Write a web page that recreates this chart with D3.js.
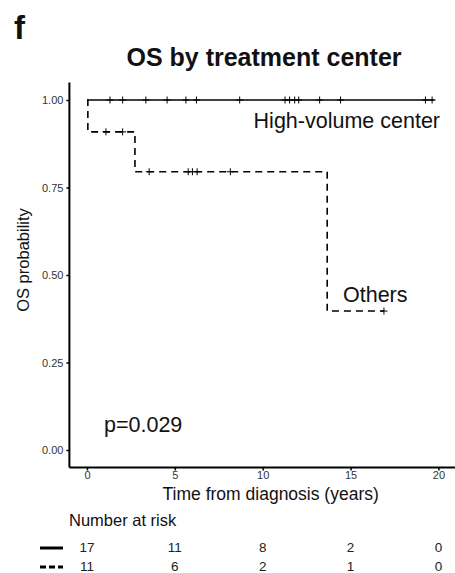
<!DOCTYPE html>
<html><head><meta charset="utf-8">
<script src="https://cdn.jsdelivr.net/npm/d3@7"></script>
<style>
html,body{margin:0;padding:0;background:#fff;}
svg{display:block;font-family:"Liberation Sans",Arial,Helvetica,sans-serif;}
</style></head>
<body>
<svg id="c" width="455" height="573"></svg>
<script>
// ---- data ----
const groups = ["High-volume center", "Others"];
// step curves: [time, survival]
const hvSteps = [[0, 1.0], [19.77, 1.0]];
const otSteps = [[0, 1.0], [0.05, 0.909], [2.73, 0.795], [13.67, 0.397], [16.9, 0.397]];
// censor marks (times)
const hvCensor = [1.31, 2.03, 3.35, 4.56, 5.63, 6.23, 8.69, 11.27, 11.53, 11.82, 12.05, 13.24, 14.43, 19.26, 19.64];
const otCensor = [1.08, 2.03, 3.54, 5.76, 6.0, 6.27, 8.16, 16.9];
const xTicks = [0, 5, 10, 15, 20];
const yTicks = [0, 0.25, 0.5, 0.75, 1.0];
const riskTimes = [0, 5, 10, 15, 20];
const riskHV = [17, 11, 8, 2, 0];
const riskOT = [11, 6, 2, 1, 0];
const pText = "p=0.029";

// ---- layout ----
const svg = d3.select("#c");
const x = d3.scaleLinear().domain([-1, 21]).range([69.4, 456]);
const y = d3.scaleLinear().domain([-0.05, 1.05]).range([467.5, 82.5]);

function survAt(steps, t){
  let s = steps[0][1];
  for (const [tt, v] of steps) { if (tt <= t) s = v; }
  return s;
}

// title & panel letter
svg.append("text").attr("x", 14).attr("y", 39).attr("font-size", 33).attr("font-weight", "bold").attr("fill", "#111").text("f");
svg.append("text").attr("x", 264).attr("y", 66).attr("text-anchor", "middle")
  .attr("font-size", 25).attr("font-weight", "bold").attr("fill", "#111").text("OS by treatment center");

// axes
const gy = svg.append("g").attr("transform", `translate(${x(-1)},0)`)
  .call(d3.axisLeft(y).tickValues(yTicks).tickFormat(d3.format(".2f")).tickSize(3).tickPadding(3));
gy.select(".domain").attr("stroke-width", 2).attr("d", `M0,${y(-0.05)}V${y(1.05)}`);
gy.selectAll(".tick line").attr("stroke-width", 1.5);
gy.selectAll(".tick text").attr("font-size", 11).attr("fill", "#333").attr("font-family", "Liberation Sans, Arial, sans-serif");

const gx = svg.append("g").attr("transform", `translate(0,${y(-0.05)})`)
  .call(d3.axisBottom(x).tickValues(xTicks).tickSize(3).tickPadding(1));
gx.select(".domain").attr("stroke-width", 2).attr("d", `M${x(-1)},0H${x(21)}`);
gx.selectAll(".tick line").attr("stroke-width", 1.5);
gx.selectAll(".tick text").attr("font-size", 11).attr("fill", "#333").attr("font-family", "Liberation Sans, Arial, sans-serif");

// axis titles
svg.append("text").attr("x", x(10) + 8).attr("y", 500).attr("text-anchor", "middle").attr("font-size", 17.5).attr("fill", "#111").text("Time from diagnosis (years)");
svg.append("text").attr("transform", `translate(29,260) rotate(-90)`).attr("text-anchor", "middle").attr("font-size", 16.5).attr("fill", "#111").text("OS probability");

// curves
const line = d3.line().curve(d3.curveStepAfter).x(d => x(d[0])).y(d => y(d[1]));
svg.append("path").datum(hvSteps).attr("d", line).attr("fill", "none").attr("stroke", "#000").attr("stroke-width", 1.6);
svg.append("path").datum(otSteps).attr("d", line).attr("fill", "none").attr("stroke", "#000").attr("stroke-width", 1.6).attr("stroke-dasharray", "7,5");

function censor(times, steps){
  svg.append("g").selectAll("path").data(times).join("path")
    .attr("d", t => { const cx = x(t), cy = y(survAt(steps, t)); return `M${cx-3.5},${cy}H${cx+3.5}M${cx},${cy-3.5}V${cy+3.5}`; })
    .attr("stroke", "#000").attr("stroke-width", 1);
}
censor(hvCensor, hvSteps);
censor(otCensor, otSteps);

// curve labels
svg.append("text").attr("x", 440).attr("y", 128).attr("text-anchor", "end").attr("font-size", 21.5).attr("fill", "#111").text(groups[0]);
svg.append("text").attr("x", 343).attr("y", 302).attr("font-size", 21.5).attr("fill", "#111").text(groups[1]);
svg.append("text").attr("x", 104).attr("y", 432).attr("font-size", 21.5).attr("fill", "#111").text(pText);

// number at risk
svg.append("text").attr("x", 69).attr("y", 526).attr("font-size", 16.5).attr("fill", "#111").text("Number at risk");
svg.append("line").attr("x1", 40).attr("x2", 63).attr("y1", 548).attr("y2", 548).attr("stroke", "#000").attr("stroke-width", 3);
svg.append("line").attr("x1", 40).attr("x2", 63).attr("y1", 567).attr("y2", 567).attr("stroke", "#000").attr("stroke-width", 3).attr("stroke-dasharray", "6,3");
svg.append("g").selectAll("text").data(riskTimes).join("text")
  .attr("x", d => x(d)).attr("y", 552).attr("text-anchor", "middle").attr("font-size", 13.5).attr("fill", "#222").text((d, i) => riskHV[i]);
svg.append("g").selectAll("text").data(riskTimes).join("text")
  .attr("x", d => x(d)).attr("y", 571).attr("text-anchor", "middle").attr("font-size", 13.5).attr("fill", "#222").text((d, i) => riskOT[i]);
</script>
</body></html>
